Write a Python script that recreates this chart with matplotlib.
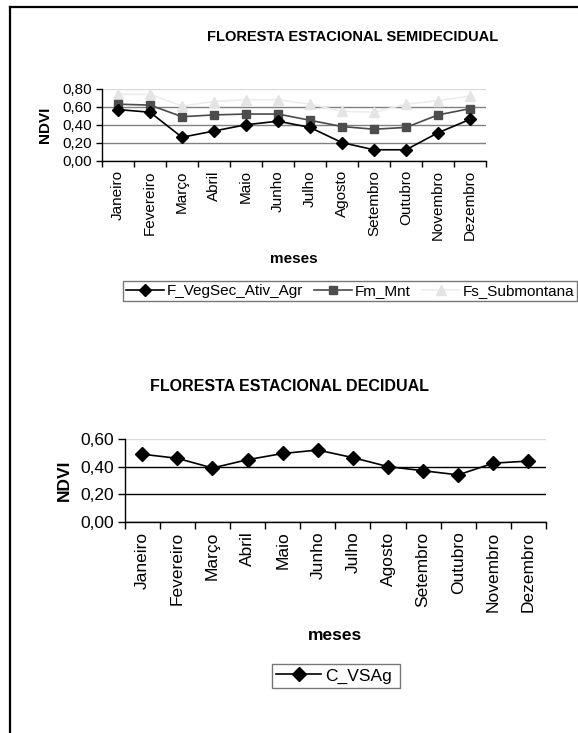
import numpy as np
import matplotlib
matplotlib.use("Agg")
import matplotlib.pyplot as plt
from matplotlib.lines import Line2D
from matplotlib.ticker import FuncFormatter

plt.rcParams['font.family'] = ['Liberation Sans', 'DejaVu Sans']

meses = ["Janeiro", "Fevereiro", "Março", "Abril", "Maio", "Junho", "Julho",
         "Agosto", "Setembro", "Outubro", "Novembro", "Dezembro"]

# Floresta Estacional Semidecidual
f_vegsec = [0.57, 0.54, 0.26, 0.33, 0.40, 0.44, 0.37, 0.20, 0.12, 0.12, 0.31, 0.46]
fm_mnt = [0.63, 0.62, 0.49, 0.51, 0.52, 0.52, 0.45, 0.38, 0.35, 0.37, 0.51, 0.58]
fs_submontana = [0.74, 0.74, 0.61, 0.66, 0.68, 0.68, 0.63, 0.55, 0.54, 0.63, 0.67, 0.72]
yticks_top = [0.0, 0.2, 0.4, 0.6, 0.8]

# Floresta Estacional Decidual
c_vsag = [0.49, 0.46, 0.39, 0.45, 0.495, 0.52, 0.465, 0.40, 0.37, 0.34, 0.425, 0.44]
yticks_bot = [0.0, 0.2, 0.4, 0.6]

W, H = 578, 733
fig = plt.figure(figsize=(W / 100, H / 100), dpi=100)


def px_axes(x0, x1, y0, y1):
    # pixel box (top-left origin) -> figure fraction
    return fig.add_axes([x0 / W, 1 - y1 / H, (x1 - x0) / W, (y1 - y0) / H])


def px_box(x0, x1, y0, y1):
    return (x0 / W, 1 - y1 / H, (x1 - x0) / W, (y1 - y0) / H)


comma = FuncFormatter(lambda v, p: f"{v:.2f}".replace(".", ","))


def style_axes(ax, yticks, fs, grid_color, tick_len):
    x = np.arange(len(meses))
    ax.set_xlim(-0.5, len(meses) - 0.5)
    ax.set_ylim(yticks[0], yticks[-1])
    ax.set_xticks(np.arange(len(meses) + 1) - 0.5)
    ax.set_xticklabels([])
    ax.set_xticks(x, minor=True)
    ax.set_xticklabels(meses, minor=True, rotation=90, fontsize=fs, va='top')
    ax.tick_params(axis='x', which='major', length=tick_len, width=1, color='black', direction='out')
    ax.tick_params(axis='x', which='minor', length=0, pad=7)
    ax.set_yticks(yticks)
    ax.yaxis.set_major_formatter(comma)
    ax.tick_params(axis='y', length=tick_len, width=1, color='black', labelsize=fs, pad=3)
    for s in ['top', 'right']:
        ax.spines[s].set_visible(False)
    for s in ['left', 'bottom']:
        ax.spines[s].set_color('black')
        ax.spines[s].set_linewidth(1)
    ax.grid(axis='y', color=grid_color, linewidth=1)
    ax.get_ygridlines()[-1].set_color('#d9d9d9')
    ax.set_axisbelow(True)
    return x


# top chart
ax1 = px_axes(102, 486, 89, 160.5)
x = style_axes(ax1, yticks_top, 11, '#808080', 4)
ax1.plot(x, fs_submontana, '-', color='#ececec', lw=1.2, marker='^', ms=7,
         mfc='#e4e4e4', mec='#e4e4e4', label='Fs_Submontana', clip_on=False)
ax1.plot(x, fm_mnt, '-', color='#4a4a4a', lw=1.2, marker='s', ms=6,
         mfc='#4d4d4d', mec='#4d4d4d', label='Fm_Mnt', clip_on=False)
ax1.plot(x, f_vegsec, '-', color='black', lw=1.2, marker='D', ms=6,
         mfc='black', mec='black', label='F_VegSec_Ativ_Agr', clip_on=False)
h, l = ax1.get_legend_handles_labels()
leg1 = fig.legend(h[::-1], l[::-1], loc='upper left', ncol=3,
                  bbox_to_anchor=px_box(123, 577, 281, 304),
                  mode='expand', fontsize=11, frameon=True, fancybox=False,
                  edgecolor='#555555', handlelength=2.5, handletextpad=0.15,
                  columnspacing=0.6, borderpad=0.2, borderaxespad=0)
leg1.get_frame().set_linewidth(1)

fig.text(353 / W, 1 - 37 / H, "FLORESTA ESTACIONAL SEMIDECIDUAL", ha='center',
         va='center', fontsize=10.5, fontweight='bold')
fig.text(45 / W, 1 - 124.5 / H, "NDVI", rotation=90, ha='center', va='center',
         fontsize=11, fontweight='bold')
fig.text(294 / W, 1 - 259 / H, "meses", ha='center', va='center',
         fontsize=11, fontweight='bold')

# bottom chart
ax2 = px_axes(124.7, 546, 439, 521.8)
x = style_axes(ax2, yticks_bot, 12.5, 'black', 5)
ax2.plot(x, c_vsag, '-', color='black', lw=1.2, marker='D', ms=7.5,
         mfc='black', mec='black', label='C_VSAg', clip_on=False)
h, l = ax2.get_legend_handles_labels()
leg2 = fig.legend(h, l, loc='upper left',
                  bbox_to_anchor=px_box(272, 400, 664, 693),
                  mode='expand', fontsize=12.5, frameon=True, fancybox=False,
                  edgecolor='#555555', handlelength=2.6, handletextpad=0.2,
                  borderpad=0.25, borderaxespad=0)
leg2.get_frame().set_linewidth(1)

fig.text(289 / W, 1 - 386 / H, "FLORESTA ESTACIONAL DECIDUAL", ha='center',
         va='center', fontsize=11.5, fontweight='bold')
fig.text(64 / W, 1 - 480.5 / H, "NDVI", rotation=90, ha='center', va='center',
         fontsize=12.5, fontweight='bold')
fig.text(335 / W, 1 - 635 / H, "meses", ha='center', va='center',
         fontsize=12.5, fontweight='bold')

# page border (left and top)
fig.add_artist(Line2D([10 / W, 10 / W], [0, 1 - 7 / H], color='black', lw=1.6,
                      transform=fig.transFigure))
fig.add_artist(Line2D([10 / W, 1], [1 - 7 / H, 1 - 7 / H], color='black', lw=1.6,
                      transform=fig.transFigure))

fig.savefig("out.png", dpi=100)
